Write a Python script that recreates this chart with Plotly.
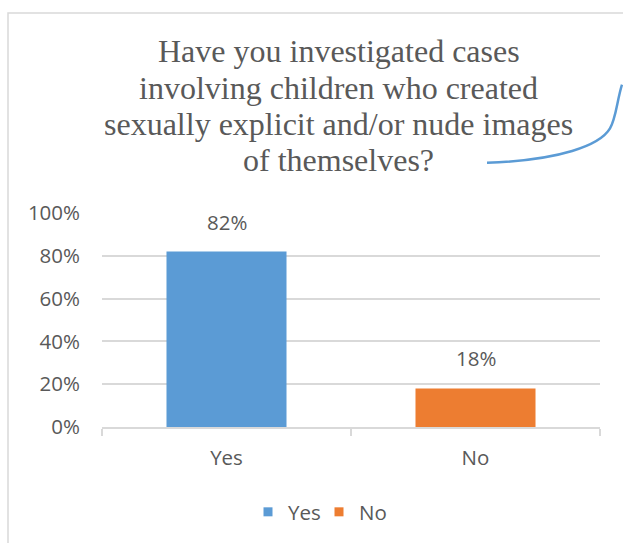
import plotly.graph_objects as go

categories = ["Yes", "No"]
values = [0.82, 0.18]
colors = ["#5b9bd5", "#ed7d31"]
title_lines = [
    "Have you investigated cases",
    "involving children who created",
    "sexually explicit and/or nude images",
    "of themselves?",
]
ytick_vals = [0, 0.2, 0.4, 0.6, 0.8, 1.0]
ytick_text = ["0%", "20%", "40%", "60%", "80%", "100%"]

OFF = 0  # page body margin removed via post_script
W, H = 623 - OFF, 543 - OFF
L, T = 102 - OFF, 213 - OFF
PW, PH = 498, 215
R, B = W - L - PW, H - T - PH

def px(x):
    return (x - OFF - L) / PW

def py(y):
    return (T + PH - (y - OFF)) / PH

TXT = "#595959"
GRID = "#d9d9d9"
SANS = "Open Sans, Liberation Sans, sans-serif"
SERIF = "Liberation Serif, Times New Roman, serif"

fig = go.Figure()
for c, v, col in zip(categories, values, colors):
    fig.add_trace(go.Bar(x=[c], y=[v], marker=dict(color=col, line=dict(width=0)),
                         showlegend=False, hoverinfo="skip"))
for c, col in zip(categories, colors):
    fig.add_trace(go.Scatter(x=[None], y=[None], mode="markers", name=c,
                             marker=dict(symbol="square", size=9, color=col)))

annotations = []
for c, v in zip(categories, values):
    annotations.append(dict(x=c, y=v, xref="x", yref="y", text=f"{round(v*100)}%",
                            showarrow=False, yanchor="bottom", yshift=14,
                            font=dict(family=SANS, size=20.5, color=TXT)))
baselines = [60.7, 97, 133.5, 170]
for line, bl in zip(title_lines, baselines):
    annotations.append(dict(x=px(338.5), y=py(bl - 10), xref="paper", yref="paper",
                            text=line, showarrow=False, xanchor="center", yanchor="middle",
                            font=dict(family=SERIF, size=32, color=TXT)))

shapes = [
    dict(type="rect", xref="paper", yref="paper", x0=px(8), x1=px(640), y0=py(12), y1=py(600),
         line=dict(color=GRID, width=1.5), fillcolor="rgba(0,0,0,0)", layer="below"),
    dict(type="path", xref="paper", yref="paper",
         path=(f"M {px(487)},{py(162.5)} C {px(560)},{py(160)} {px(600)},{py(145)} {px(610)},{py(128)}"
               f" C {px(616)},{py(118)} {px(617)},{py(100)} {px(622)},{py(84)}"),
         line=dict(color="#5b9bd5", width=2.5)),
]

fig.update_layout(
    width=W, height=H,
    margin=dict(l=L, r=R, t=T, b=B, pad=0),
    paper_bgcolor="white", plot_bgcolor="rgba(0,0,0,0)",
    barmode="overlay", bargap=0.518,
    showlegend=True,
    legend=dict(orientation="h", x=px(319), xanchor="center", y=py(512), yanchor="middle",
                font=dict(family=SANS, size=20.5, color=TXT), itemwidth=30,
                entrywidth=26, entrywidthmode="pixels",
                bgcolor="rgba(0,0,0,0)"),
    annotations=annotations,
    shapes=shapes,
    font=dict(family=SANS, color=TXT),
)
fig.update_xaxes(type="category", categoryorder="array", categoryarray=categories,
                 showline=True, linecolor=GRID, linewidth=1.5, showgrid=False,
                 ticks="outside", tickson="boundaries", ticklen=7, tickcolor=GRID, tickwidth=1.5,
                 tickfont=dict(family=SANS, size=20.5, color=TXT), ticklabelstandoff=12,
                 fixedrange=True)
fig.update_yaxes(range=[0, 1], tickvals=ytick_vals, ticktext=ytick_text,
                 showgrid=True, gridcolor=GRID, gridwidth=1.5, zeroline=False, showline=False,
                 ticks="", tickfont=dict(family=SANS, size=20.5, color=TXT), ticklabelstandoff=21,
                 fixedrange=True)

fig.write_html("out.html", config={"displayModeBar": False},
               post_script="document.body.style.margin='0';document.body.style.overflow='hidden';")
